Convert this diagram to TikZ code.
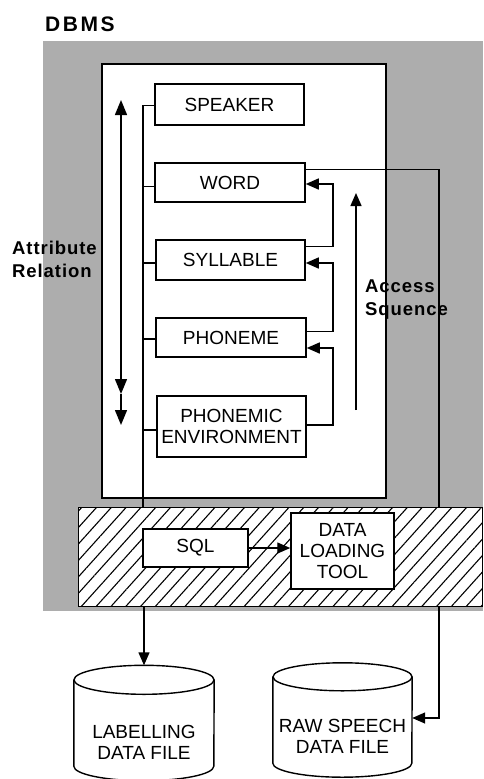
\documentclass[tikz,border=0pt]{standalone}
\usepackage{fontspec}
\setmainfont{Liberation Sans}
\newfontfamily\dgspaced{Liberation Sans}[LetterSpace=5]
\newfontfamily\dgwide{Liberation Sans}[LetterSpace=12]
\usetikzlibrary{arrows.meta,patterns.meta,calc}

\definecolor{dither}{gray}{0.68}
\newcommand\dgboxfont{\fontsize{19}{21}\selectfont}
\newcommand\dgheadfont{\dgspaced\bfseries\fontsize{18.5}{24}\selectfont}

\begin{document}
\begin{tikzpicture}[x=1pt,y=1pt,
  box/.style={draw, line width=1.5pt, fill=white, font=\dgboxfont,
    align=center, inner sep=0pt},
  link/.style={line width=1.4pt},
  arr/.style={link, -{Triangle[length=13pt,width=11pt]}},
  head/.style={font=\dgheadfont, inner sep=0pt, anchor=base west},
  cylbody/.style={inner sep=0pt}]

\useasboundingbox (0,0) rectangle (483,-779);

% shaded DBMS area
\fill[dither] (43,-41) rectangle (483,-611);
\node[head, font=\dgwide\bfseries\fontsize{21}{24}\selectfont] (dbms) at (45,-31) {DBMS};

% white schema panel
\node[draw, fill=white, line width=1.5pt, minimum width=284, minimum height=434,
  anchor=north west, inner sep=0pt] (panel) at (101,-63) {};

% hatched tool layer
\node[draw, line width=1.5pt, preaction={fill=white},
  pattern={Lines[angle=48,distance=11pt,line width=1.1pt]},
  minimum width=404, minimum height=99, anchor=north west, inner sep=0pt]
  (tools) at (78,-507) {};

% relations
\node[box, minimum width=149, minimum height=41] (spk) at (229.5,-104.5) {SPEAKER};
\node[box, minimum width=150, minimum height=39] (wrd) at (230,-182.5) {WORD};
\node[box, minimum width=149, minimum height=40] (syl) at (230.5,-260) {SYLLABLE};
\node[box, minimum width=150, minimum height=39] (pho) at (231,-337.5) {PHONEME};
\node[box, minimum width=149, minimum height=61] (env) at (231.5,-426.5) {PHONEMIC\\ENVIRONMENT};

% tools
\node[box, minimum width=105, minimum height=38] (sql) at (195.5,-548) {SQL};
\node[box, minimum width=103, minimum height=76] (dlt) at (342.5,-551) {DATA\\LOADING\\TOOL};

% data files
\node[cylbody, minimum width=140, minimum height=115] (lab) at (144,-723) {};
\node[cylbody, minimum width=139, minimum height=114] (raw) at (342.5,-720) {};
\draw[link] ($(lab.north west)+(0,-14.5)$) -- ($(lab.south west)+(0,14.5)$)
  arc[start angle=180, end angle=360, x radius=70, y radius=14.5]
  -- ($(lab.north east)+(0,-14.5)$);
\draw[link] ($(lab.north)+(0,-14.5)$) ellipse [x radius=70, y radius=14.5];
\draw[link] ($(raw.north west)+(0,-14)$) -- ($(raw.south west)+(0,14)$)
  arc[start angle=180, end angle=360, x radius=69.5, y radius=14]
  -- ($(raw.north east)+(0,-14)$);
\draw[link] ($(raw.north)+(0,-14)$) ellipse [x radius=69.5, y radius=14];
\node[font=\dgboxfont, align=center, inner sep=0pt] (labtxt) at ($(lab.center)+(0,-19)$) {LABELLING\\DATA FILE};
\node[font=\dgboxfont, align=center, inner sep=0pt] (rawtxt) at ($(raw.center)+(0,-16)$) {RAW SPEECH\\DATA FILE};

% attribute bus on the left
\coordinate (busx) at (143,0);
\path ([yshift=-1pt]spk.west) coordinate (spkL)
      ([yshift=-4pt]wrd.west) coordinate (wrdL)
      ([yshift=-3pt]syl.west) coordinate (sylL)
      ([yshift=-1.5pt]pho.west) coordinate (phoL)
      ([yshift=-3.5pt]env.west) coordinate (envL);
\draw[link] (spkL) -| (tools.north -| busx);
\foreach \p in {wrdL,sylL,phoL,envL} \draw[link] (\p) -- (\p -| busx);
\draw[arr] (tools.south -| lab.north) -- (lab.north);

% access sequence links
\coordinate (accx) at (333,0);
\path ([yshift=-7pt]syl.north east) coordinate (sylR)
      ([yshift=-1.5pt]wrd.east) coordinate (wrdIn)
      ([yshift=-14pt]pho.north east) coordinate (phoR)
      ([yshift=-3pt]syl.east) coordinate (sylIn)
      ([yshift=1.5pt]env.east) coordinate (envR)
      ([yshift=-10.5pt]pho.east) coordinate (phoIn);
\draw[arr] (sylR) -- (sylR -| accx) |- (wrdIn);
\draw[arr] (phoR) -- (phoR -| accx) |- (sylIn);
\draw[arr] (envR) -- (envR -| accx) |- (phoIn);

% raw speech path
\coordinate (rx) at (439,0);
\path ([yshift=-7pt]wrd.north east) coordinate (wrdR)
      ($(raw.east)+(0,2)$) coordinate (rawIn);
\draw[link] (wrdR) -| (tools.north -| rx);
\draw[arr] (tools.south -| rx) |- (rawIn);

% SQL to loader
\draw[arr] (sql.east) -- (sql.east -| dlt.west);

% attribute relation arrow
\coordinate (atTop) at (121,-100);
\coordinate (atMid) at (121,-394);
\coordinate (atBot) at (121,-425);
\draw[link, {Triangle[length=15pt,width=12pt]}-{Triangle[length=15pt,width=12pt]}] (atTop) -- (atMid);
\draw[link, -{Triangle[length=15pt,width=12pt]}] (atMid) -- (atBot);

% access sequence arrow
\coordinate (acTop) at (356,-193);
\coordinate (acBot) at (356,-410);
\draw[link, -{Triangle[length=13pt,width=11pt]}] (acBot) -- (acTop);

% side labels
\node[head] (attr1) at (12,-254) {Attribute};
\node[head] (attr2) at (12,-277) {Relation};
\node[head] (acc1) at (365,-292) {Access};
\node[head] (acc2) at (365,-315) {Squence};
\end{tikzpicture}
\end{document}
